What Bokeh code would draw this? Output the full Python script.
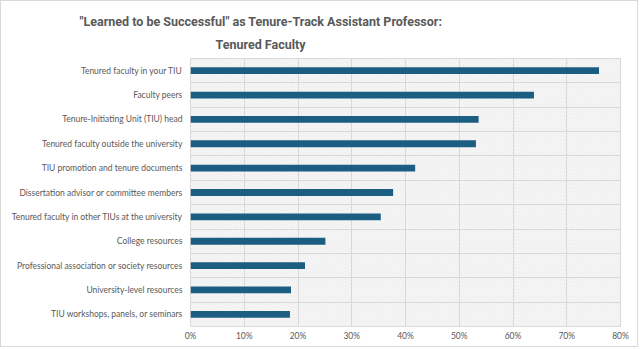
from bokeh.plotting import figure
from bokeh.models import (Range1d, FixedTicker, PrintfTickFormatter, Title,
                          BoxAnnotation)
from bokeh.embed import file_html
from bokeh.resources import INLINE

# Survey sources, listed top to bottom
categories = [
    "Tenured faculty in your TIU",
    "Faculty peers",
    "Tenure-Initiating Unit (TIU) head",
    "Tenured faculty outside the university",
    "TIU promotion and tenure documents",
    "Dissertation advisor or committee members",
    "Tenured faculty in other TIUs at the university",
    "College resources",
    "Professional association or society resources",
    "University-level resources",
    "TIU workshops, panels, or seminars",
]
# Share of respondents (%)
values = [76.0, 63.9, 53.6, 53.1, 41.8, 37.7, 35.4, 25.1, 21.3, 18.7, 18.5]
x_ticks = [0, 10, 20, 30, 40, 50, 60, 70, 80]
title_lines = ['"Learned to be Successful" as Tenure-Track Assistant Professor:',
               "Tenured Faculty"]

n = len(categories)
centers = [i + 0.5 for i in range(n)]
bounds = [i for i in range(1, n)]

GRAY_TEXT = "#595959"
GRID = "#D9D9D9"
BAR = "#1B5E82"
LABEL_FONT = "Lato"
TITLE_FONT = "Roboto"

p = figure(width=638, height=347, output_backend="svg", toolbar_location=None,
           x_range=Range1d(0, 80), y_range=Range1d(n, 0),
           min_border_left=189, min_border_right=19,
           min_border_top=57, min_border_bottom=22)
p.styles = {"border": "1px solid #D9D9D9"}
p.background_fill_color = "white"
p.border_fill_color = "white"
p.outline_line_color = GRID
p.outline_line_width = 1

# light diagonal hatch across the plotting area
hatch = BoxAnnotation(fill_alpha=0, line_alpha=0,
                      hatch_pattern="left_diagonal_line", hatch_color="#E0E0E0",
                      hatch_scale=3.5, hatch_weight=0.7, level="image")
p.add_layout(hatch)

p.hbar(y=centers, right=values, left=0, height=0.28, color=BAR, line_color=None)

# axes
p.xaxis.ticker = FixedTicker(ticks=x_ticks)
p.xaxis.formatter = PrintfTickFormatter(format="%d%%")
p.yaxis.ticker = FixedTicker(ticks=centers)
p.yaxis.major_label_overrides = {c: lab for c, lab in zip(centers, categories)}
for ax in (p.xaxis[0], p.yaxis[0]):
    ax.axis_line_color = None
    ax.major_tick_line_color = None
    ax.minor_tick_line_color = None
    ax.major_tick_out = 0
    ax.major_tick_in = 0
    ax.minor_tick_out = 0
    ax.major_label_text_color = GRAY_TEXT
    ax.major_label_text_font = LABEL_FONT
    ax.major_label_text_font_size = "8.5px"
p.xaxis.major_label_standoff = 4
p.yaxis.major_label_standoff = 8

# grid: vertical at each tick, horizontal between categories
p.xgrid.ticker = FixedTicker(ticks=x_ticks)
p.xgrid.grid_line_color = GRID
p.ygrid.ticker = FixedTicker(ticks=bounds)
p.ygrid.grid_line_color = GRID

# two-line chart title; the first line is the figure's own title, the second
# sits between it and the frame
title_style = dict(align="left", text_font=TITLE_FONT, text_font_style="bold",
                   text_font_size="12.5px", text_color=GRAY_TEXT)
for k, v in title_style.items():
    setattr(p.title, k, v)
p.title.text = title_lines[0]
p.title.offset = -111
p.title.standoff = 0
p.add_layout(Title(text=title_lines[1], offset=25, standoff=13, **title_style), "above")

open("out.html", "w").write(file_html(p, INLINE))
